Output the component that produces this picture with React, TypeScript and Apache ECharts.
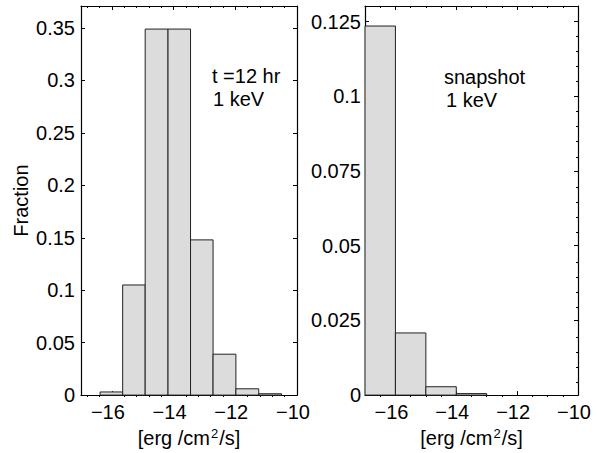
import React, { useEffect, useRef } from "react";
import * as echarts from "echarts";

// Histogram of fluxes, left panel: t = 12 hr, 1 keV
const leftEdges = [-16.38, -15.65, -14.92, -14.18, -13.45, -12.72, -11.98, -11.24, -10.5];
const leftFractions = [0.003, 0.105, 0.349, 0.349, 0.148, 0.039, 0.006, 0.0013];

// Right panel: snapshot, 1 keV
const rightEdges = [-17, -16, -15, -14, -13];
const rightFractions = [0.1235, 0.0208, 0.0028, 0.0005];

// Tick positions
const xMajorTicks = [-16, -14, -12, -10];
const leftXMinorTicks = [-16.8, -16.4, -15.6, -15.2, -14.8, -14.4, -13.6, -13.2, -12.8, -12.4, -11.6, -11.2, -10.8, -10.4];
const rightXMinorTicks = [-16.5, -15.5, -15, -14.5, -13.5, -13, -12.5, -11.5, -11, -10.5];
const leftYTicks = [0, 0.05, 0.1, 0.15, 0.2, 0.25, 0.3, 0.35];
const rightYTicks = [0, 0.025, 0.05, 0.075, 0.1, 0.125];
const rightYMinorTicks = [
  0.005, 0.01, 0.015, 0.02, 0.03, 0.035, 0.04, 0.045, 0.055, 0.06, 0.065, 0.07,
  0.08, 0.085, 0.09, 0.095, 0.105, 0.11, 0.115, 0.12, 0.13,
];

const X_MIN = -17;
const X_MAX = -10;
const LEFT_Y_MAX = 0.371;
const RIGHT_Y_MAX = 0.1302;

const FONT = "'Liberation Sans', Arial, Helvetica, sans-serif";
const FONT_SIZE = 20;

const fmtX = (v: number) => (v < 0 ? "\u2212" + Math.abs(v) : String(v));
const fmtY = (v: number) => String(parseFloat(Number(v).toFixed(4)));

const toBins = (edges: number[], values: number[]) =>
  values.map((v, i) => [edges[i], edges[i + 1], v]);

const labelStyle = { fontFamily: FONT, fontSize: FONT_SIZE, color: "#000" };

const xNameStyle = {
  ...labelStyle,
  rich: {
    sup: { fontFamily: FONT, fontSize: 13, color: "#000", verticalAlign: "bottom", padding: [0, 1, 9, 1] },
  },
};

function xAxes(grid: number, minorGrid: number, minors: number[]) {
  const base = {
    type: "value",
    min: X_MIN,
    max: X_MAX,
    splitLine: { show: false },
  };
  return [
    {
      ...base,
      gridIndex: grid,
      position: "bottom",
      axisLine: { show: true, onZero: false, lineStyle: { color: "#000", width: 1.2 } },
      axisTick: { show: true, inside: true, length: 4, customValues: xMajorTicks, lineStyle: { color: "#000" } },
      axisLabel: { show: true, customValues: xMajorTicks, formatter: fmtX, margin: 7, padding: [0, 8, 0, 0], ...labelStyle },
      name: "[erg /cm{sup|2}/s]",
      nameLocation: "middle",
      nameGap: 31,
      nameTextStyle: xNameStyle,
    },
    {
      ...base,
      gridIndex: grid,
      position: "top",
      axisLine: { show: true, onZero: false, lineStyle: { color: "#000", width: 1.2 } },
      axisTick: { show: true, inside: true, length: 4, customValues: xMajorTicks, lineStyle: { color: "#000" } },
      axisLabel: { show: false },
    },
    {
      ...base,
      gridIndex: minorGrid,
      position: "bottom",
      axisLine: { show: false, onZero: false },
      axisTick: { show: true, inside: true, length: 2, customValues: minors, lineStyle: { color: "#000" } },
      axisLabel: { show: false },
    },
    {
      ...base,
      gridIndex: minorGrid,
      position: "top",
      axisLine: { show: false, onZero: false },
      axisTick: { show: true, inside: true, length: 2, customValues: minors, lineStyle: { color: "#000" } },
      axisLabel: { show: false },
    },
  ];
}

function yAxes(grid: number, minorGrid: number, yMax: number, majors: number[], minors: number[] | null, labelMargin: number, name: string) {
  const base = {
    type: "value",
    min: 0,
    max: yMax,
    splitLine: { show: false },
  };
  const minorTick = (pos: string) => ({
    ...base,
    gridIndex: minorGrid,
    position: pos,
    axisLine: { show: false, onZero: false },
    axisTick: minors
      ? { show: true, inside: true, length: 2, customValues: minors, lineStyle: { color: "#000" } }
      : { show: false },
    axisLabel: { show: false },
  });
  return [
    {
      ...base,
      gridIndex: grid,
      position: "left",
      axisLine: { show: true, onZero: false, lineStyle: { color: "#000", width: 1.2 } },
      axisTick: { show: true, inside: true, length: 4, customValues: majors, lineStyle: { color: "#000" } },
      axisLabel: { show: true, customValues: majors, formatter: fmtY, margin: labelMargin, ...labelStyle },
      name,
      nameLocation: "middle",
      nameRotate: 90,
      nameGap: 50,
      nameTextStyle: labelStyle,
    },
    {
      ...base,
      gridIndex: grid,
      position: "right",
      axisLine: { show: true, onZero: false, lineStyle: { color: "#000", width: 1.2 } },
      axisTick: { show: true, inside: true, length: 4, customValues: majors, lineStyle: { color: "#000" } },
      axisLabel: { show: false },
    },
    minorTick("left"),
    minorTick("right"),
  ];
}

const histRender = (params: any, api: any) => {
  const top = api.coord([api.value(0), api.value(2)]);
  const bottom = api.coord([api.value(1), 0]);
  return {
    type: "rect",
    shape: { x: top[0], y: top[1], width: bottom[0] - top[0], height: bottom[1] - top[1] },
    style: { fill: "#dcdcdc", stroke: "#222", lineWidth: 1 },
  };
};

export default function App() {
  const ref = useRef<HTMLDivElement>(null);

  useEffect(() => {
    if (!ref.current) return;
    const chart = echarts.init(ref.current, null, { renderer: "svg" });

    const leftRect = { left: 81, top: 6, width: 216, height: 391 };
    const rightRect = { left: 365, top: 6, width: 213, height: 391 };

    chart.setOption({
      animation: false,
      backgroundColor: "#fff",
      grid: [
        { ...leftRect, containLabel: false },
        { ...leftRect, containLabel: false },
        { ...rightRect, containLabel: false },
        { ...rightRect, containLabel: false },
      ],
      xAxis: [...xAxes(0, 1, leftXMinorTicks), ...xAxes(2, 3, rightXMinorTicks)],
      yAxis: [
        ...yAxes(0, 1, LEFT_Y_MAX, leftYTicks, null, 6, "Fraction"),
        ...yAxes(2, 3, RIGHT_Y_MAX, rightYTicks, rightYMinorTicks, 4, ""),
      ],
      series: [
        {
          type: "custom",
          xAxisIndex: 0,
          yAxisIndex: 0,
          renderItem: histRender,
          encode: { x: [0, 1], y: 2 },
          data: toBins(leftEdges, leftFractions),
        },
        {
          type: "custom",
          xAxisIndex: 4,
          yAxisIndex: 4,
          renderItem: histRender,
          encode: { x: [0, 1], y: 2 },
          data: toBins(rightEdges, rightFractions),
        },
      ],
      graphic: [
        { type: "text", x: 212, y: 76, style: { text: "t =12 hr", fontFamily: FONT, fontSize: FONT_SIZE, fill: "#000", verticalAlign: "middle" } },
        { type: "text", x: 213, y: 99, style: { text: "1 keV", fontFamily: FONT, fontSize: FONT_SIZE, fill: "#000", verticalAlign: "middle" } },
        { type: "text", x: 444, y: 77, style: { text: "snapshot", fontFamily: FONT, fontSize: FONT_SIZE, fill: "#000", verticalAlign: "middle" } },
        { type: "text", x: 446, y: 100, style: { text: "1 keV", fontFamily: FONT, fontSize: FONT_SIZE, fill: "#000", verticalAlign: "middle" } },
      ],
    });

    return () => chart.dispose();
  }, []);

  return (
    <div
      ref={ref}
      style={{ position: "absolute", left: 0, top: 0, width: 597, height: 453 }}
    />
  );
}
